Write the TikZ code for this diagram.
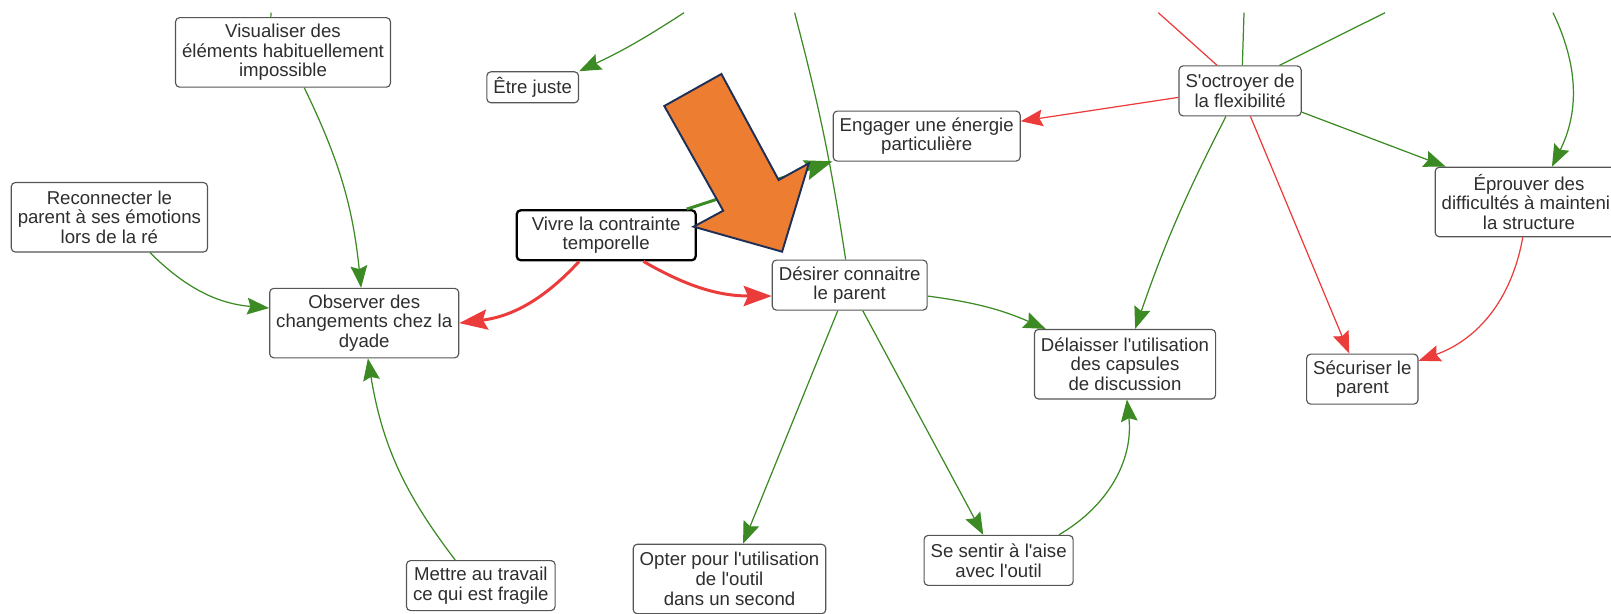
\documentclass[tikz,border=0pt]{standalone}
\usepackage{fontspec}
\setmainfont{Liberation Sans}
\usetikzlibrary{arrows.meta, positioning}
\definecolor{leafgreen}{HTML}{3B8A23}
\definecolor{alertred}{HTML}{EC3B3B}
\definecolor{calloutorange}{HTML}{ED7D31}
\definecolor{calloutnavy}{HTML}{1F3057}
\definecolor{boxgrey}{HTML}{555555}
\newcommand{\apos}{\textquotesingle}
\tikzstyle{concept} = [rectangle, rounded corners=2.3pt, minimum height=1cm,
                       inner xsep=3.7pt, inner ysep=2pt, align=center,
                       draw=boxgrey, fill=white, line width=0.65pt, text=black!82,
                       font=\fontsize{10.6}{11.2}\selectfont]
\tikzstyle{threeline} = [concept, minimum height=1.39cm]
\tikzstyle{oneline} = [concept, minimum height=0.62cm]
\tikzstyle{selected} = [concept, draw=black, line width=1.3pt, minimum width=3.58cm]
\tikzstyle{support} = [-{Stealth[length=12.5pt, width=9.5pt, inset=1.8pt]},
                       draw=leafgreen, line width=0.7pt]
\tikzstyle{hinder} = [-{Stealth[length=12.5pt, width=9.5pt, inset=1.8pt]},
                      draw=alertred, line width=0.7pt]
\tikzstyle{heavy} = [-{Stealth[length=16pt, width=11.5pt, inset=2.5pt]}, line width=1.7pt]
\tikzstyle{greenlink} = [draw=leafgreen, line width=0.7pt]
\tikzstyle{redlink} = [draw=alertred, line width=0.7pt]
\tikzstyle{callout} = [fill=calloutorange, draw=calloutnavy, line width=1.1pt, line join=miter]

\begin{document}
\begin{tikzpicture}[x=0.02cm, y=0.02cm]
    \useasboundingbox (0,0) rectangle (1611,613);
    \clip (0,0) rectangle (1611,613);

    % Left part
    \node[threeline] (visu) at (283,560.6) {Visualiser des\\éléments habituellement\\impossible};
    \node[oneline] (juste) at (532.7,525.7) {Être juste};
    \node[threeline] (recon) at (109.4,395.7) {Reconnecter le\\parent à ses émotions\\lors de la ré};
    \node[threeline] (observe) at (364.2,289.9) {Observer des\\changements chez la\\dyade};
    \node[concept] (work) at (480.8,27.4) {Mettre au travail\\ce qui est fragile};

    % Middle part
    \node[selected] (vivre) at (606.2,377.7) {Vivre la contrainte\\temporelle};
    \node[concept] (engage) at (926.7,476.9) {Engager une énergie\\particulière};
    \node[concept] (desire) at (849.7,327.9) {Désirer connaitre\\le parent};
    \node[threeline] (opt) at (729.5,34) {Opter pour l\apos utilisation\\de l\apos outil\\dans un second};
    \node[concept] (ease) at (998.6,52.6) {Se sentir à l\apos aise\\avec l\apos outil};
    \node[threeline] (leave) at (1125,248.8) {Délaisser l\apos utilisation\\des capsules\\de discussion};

    % Right part
    \node[concept] (flex) at (1240.1,522.1) {S\apos octroyer de\\la flexibilité};
    \node[threeline] (prove) at (1529,411) {Éprouver des\\difficultés à maintenir\\la structure};
    \node[concept] (secure) at (1362.3,233.9) {Sécuriser le\\parent};

    % Free ends on the top border
    \coordinate (topV) at (271,600.3);
    \coordinate (topJ) at (684,600.3);
    \coordinate (topD) at (794.6,600.3);
    \coordinate (topFa) at (1158.3,600.3);
    \coordinate (topFb) at (1244,600.3);
    \coordinate (topFc) at (1385,600.3);
    \coordinate (topP) at (1553,600.3);

    % Links towards Observer
    \draw[support] (visu.-59) to[bend left=10] (observe.95);
    \draw[support] (recon.-41) to[bend right=20] (observe.171);
    \draw[support] (work.135) to[bend left=14] (observe.-84);
    \draw[hinder, heavy] (vivre.-136) to[bend left=20] (observe.east);

    % Links from Vivre and Desirer
    \draw[hinder, heavy] (vivre.-35) to[bend right=15] (desire.-172);
    \draw[support, heavy] (vivre.18) -- (engage.-165);
    \draw[support] (desire.-8) to[bend left=8] (leave.156);
    \draw[support] (desire.-115) -- (opt.69);
    \draw[support] (desire.-63) -- (ease.121);
    \draw[support] (ease.23) to[bend right=33] (leave.-87);

    % Links from S'octroyer
    \draw[hinder] (flex.-174) -- (engage.9);
    \draw[support] (flex.-19) -- (prove.157);
    \draw[support] (flex.-119) to[bend right=4] (leave.74);
    \draw[hinder] (flex.-68) -- (secure.117);
    \draw[hinder] (prove.-100) to[bend left=30] (secure.18);

    % Links leaving the frame
    \draw[greenlink] (visu.109) -- (topV);
    \draw[support] (topJ) to[bend left=4] (juste.north east);
    \draw[greenlink] (desire.99) to[bend right=3] (topD);
    \draw[redlink] (flex.132) -- (topFa);
    \draw[greenlink] (flex.85) -- (topFb);
    \draw[greenlink] (flex.33) -- (topFc);
    \draw[support] (topP) to[bend left=26] (prove.57);

    % Callout arrow
    \draw[callout] (664.3,507) -- (721.4,539) -- (778.6,433) -- (808.9,449.7)
        -- (782.1,361.3) -- (693.6,386.3) -- (723.2,402.3) -- cycle;
\end{tikzpicture}
\end{document}
